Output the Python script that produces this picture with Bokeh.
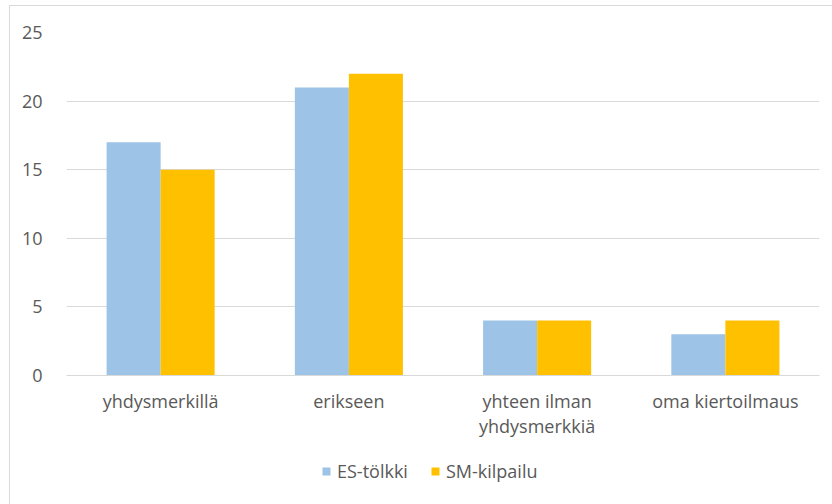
from bokeh.plotting import figure
from bokeh.layouts import column
from bokeh.models import FactorRange, Range1d, Legend, LegendItem, ColumnDataSource, FixedTicker
from bokeh.transform import dodge
from bokeh.embed import file_html
from bokeh.resources import INLINE

categories = ["yhdysmerkillä", "erikseen", "yhteen ilman\nyhdysmerkkiä", "oma kiertoilmaus"]
es_tolkki = [17, 21, 4, 3]
sm_kilpailu = [15, 22, 4, 4]
series_names = ["ES-tölkki", "SM-kilpailu"]
y_ticks = [0, 5, 10, 15, 20, 25]

FONT = "Open Sans"
TXT = "#595959"
GRID = "#d9d9d9"
BLUE = "#9dc3e6"
GOLD = "#ffc000"

src = ColumnDataSource(dict(cat=categories, es=es_tolkki, sm=sm_kilpailu))

p = figure(width=822, height=440, x_range=FactorRange(*categories), y_range=Range1d(0, 25),
           output_backend="svg", toolbar_location=None,
           min_border_left=56, min_border_right=13, min_border_top=26, min_border_bottom=71)
p.outline_line_color = None
p.background_fill_color = "white"
p.border_fill_color = "white"

bw = 0.287
p.vbar(x=dodge("cat", -bw / 2, range=p.x_range), top="es", width=bw, source=src,
       fill_color=BLUE, line_color=None)
p.vbar(x=dodge("cat", bw / 2, range=p.x_range), top="sm", width=bw, source=src,
       fill_color=GOLD, line_color=None)

p.xgrid.grid_line_color = None
p.ygrid.grid_line_color = GRID
p.ygrid.grid_line_width = 1
p.yaxis.ticker = FixedTicker(ticks=y_ticks)

for ax in (p.xaxis[0], p.yaxis[0]):
    ax.axis_line_color = None
    ax.major_tick_line_color = None
    ax.minor_tick_line_color = None
    ax.major_label_text_color = TXT
    ax.major_label_text_font = FONT
    ax.major_label_text_font_size = "18px"
p.yaxis.major_label_standoff = 18
p.xaxis.major_label_standoff = 7
p.xaxis.major_label_text_line_height = 1.05
p.xaxis.axis_line_color = GRID

# legend strip
lg = figure(width=822, height=58, x_range=Range1d(0, 1), y_range=Range1d(0, 1),
            output_backend="svg", toolbar_location=None,
            x_axis_location=None, y_axis_location=None,
            min_border_left=0, min_border_right=0, min_border_top=0, min_border_bottom=8)
lg.outline_line_color = None
lg.xgrid.grid_line_color = None
lg.ygrid.grid_line_color = None
d1 = lg.vbar(x=[-5], top=[-5], bottom=[-6], width=0.1, fill_color=BLUE, line_color=None)
d2 = lg.vbar(x=[-5], top=[-5], bottom=[-6], width=0.1, fill_color=GOLD, line_color=None)
legend = Legend(items=[LegendItem(label=series_names[0], renderers=[d1]),
                       LegendItem(label=series_names[1], renderers=[d2])],
                orientation="horizontal", location=(255, 13),
                label_text_font=FONT, label_text_font_size="18px", label_text_color=TXT,
                glyph_width=10, glyph_height=10, spacing=22, label_standoff=6,
                border_line_color=None, background_fill_alpha=0, padding=4, margin=0)
lg.add_layout(legend, "center")

layout = column(p, lg, spacing=0)
layout.margin = (5, 0, 0, 9)
layout.styles = {"border-left": "1px solid #d9d9d9", "border-top": "1px solid #d9d9d9"}

open("out.html", "w").write(file_html(layout, INLINE))
